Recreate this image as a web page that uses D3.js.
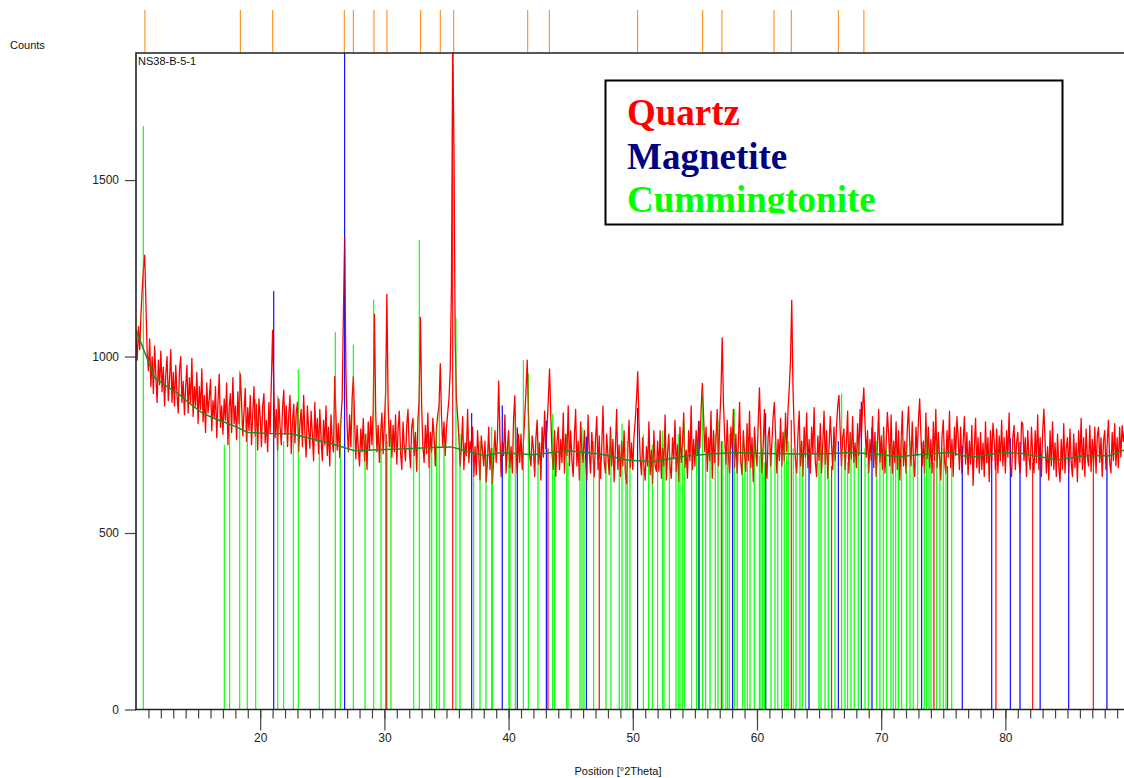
<!DOCTYPE html>
<html>
<head>
<meta charset="utf-8">
<script src="https://d3js.org/d3.v7.min.js"></script>
<style>
  body { margin: 0; background: #fff; }
  svg { display: block; font-family: "Liberation Sans", Arial, sans-serif; }
</style>
</head>
<body>
<div id="chart"></div>
<script>
// measured scan: start angle, step, counts (one row per degree)
const startPos = 10.0;
const stepSize = 0.1;
const counts = [
  1060, 990, 1085, 1020, 1120, 1190, 1250, 1287, 1150, 1010, // 10
  960, 1050, 915, 1000, 895, 1030, 945, 870, 990, 920,
  1015, 900, 970, 860, 950, 1000, 875, 935, 1020, 870,
  955, 860, 975, 895, 840, 960, 1000, 870, 930, 835,
  915, 975, 840, 940, 870, 995, 830, 915, 860, 955,
  810, 915, 850, 965, 815, 890, 785, 925, 840, 880, // 15
  935, 790, 875, 825, 915, 770, 870, 950, 800, 860,
  780, 880, 820, 925, 750, 855, 895, 785, 940, 810,
  860, 765, 900, 810, 950, 870, 775, 845, 910, 760,
  855, 790, 890, 750, 840, 915, 775, 865, 735, 880,
  830, 745, 860, 895, 755, 820, 730, 870, 785, 930, // 20
  1074, 900, 770, 850, 735, 880, 800, 750, 855, 905,
  780, 860, 745, 835, 890, 725, 815, 865, 755, 840,
  870, 730, 810, 850, 745, 890, 780, 715, 860, 795,
  740, 845, 780, 705, 870, 760, 825, 725, 850, 770,
  705, 820, 750, 860, 720, 800, 690, 835, 760, 730, // 25
  943, 830, 735, 810, 715, 820, 880, 1120, 1340, 960,
  800, 730, 835, 745, 880, 943, 820, 710, 805, 740,
  690, 795, 730, 825, 705, 780, 680, 815, 735, 830,
  750, 850, 1120, 840, 730, 805, 700, 785, 840, 725,
  810, 900, 1176, 870, 745, 820, 715, 805, 730, 835, // 30
  695, 790, 845, 730, 680, 815, 745, 705, 805, 850,
  740, 685, 800, 825, 720, 785, 675, 820, 880, 1111,
  860, 745, 700, 805, 725, 840, 685, 785, 730, 825,
  775, 690, 800, 835, 860, 980, 830, 745, 815, 720,
  800, 840, 880, 960, 1200, 1900, 1600, 1050, 880, 830, // 35
  770, 690, 745, 830, 680, 755, 720, 850, 700, 760,
  730, 800, 660, 745, 665, 790, 720, 650, 775, 735,
  690, 760, 645, 705, 800, 680, 740, 640, 715, 790,
  700, 765, 930, 780, 660, 760, 720, 835, 670, 740,
  790, 685, 745, 670, 820, 889, 735, 670, 780, 700, // 40
  780, 680, 760, 830, 900, 990, 840, 720, 690, 775,
  740, 660, 770, 820, 695, 755, 650, 800, 715, 845,
  740, 800, 880, 965, 830, 725, 680, 790, 660, 760,
  800, 680, 765, 700, 840, 670, 780, 720, 860, 690,
  790, 705, 660, 775, 850, 690, 760, 650, 815, 735, // 45
  700, 790, 715, 650, 835, 730, 670, 785, 720, 660,
  765, 830, 680, 775, 655, 745, 860, 700, 670, 780,
  720, 665, 800, 690, 765, 645, 740, 850, 680, 750,
  660, 760, 690, 790, 670, 640, 735, 820, 685, 755,
  680, 775, 820, 880, 957, 810, 710, 665, 770, 690, // 50
  650, 745, 690, 815, 665, 735, 640, 790, 690, 675,
  760, 675, 790, 655, 740, 690, 835, 650, 725, 780,
  690, 655, 770, 710, 820, 675, 750, 645, 800, 700,
  750, 840, 685, 735, 655, 790, 705, 860, 680, 765,
  690, 790, 720, 815, 740, 850, 924, 830, 730, 800, // 55
  675, 770, 705, 845, 655, 790, 700, 765, 850, 690,
  810, 900, 1053, 870, 770, 695, 820, 720, 670, 800,
  740, 850, 685, 780, 670, 755, 870, 700, 665, 790,
  725, 675, 810, 705, 845, 685, 770, 645, 800, 730,
  690, 815, 911, 780, 670, 750, 850, 705, 655, 775, // 60
  800, 690, 755, 830, 870, 775, 670, 765, 705, 825,
  690, 785, 705, 840, 730, 850, 910, 990, 1159, 910,
  790, 705, 670, 780, 845, 690, 760, 660, 800, 715,
  840, 685, 765, 670, 800, 725, 855, 700, 660, 775,
  705, 810, 670, 755, 845, 695, 790, 655, 740, 830, // 65
  755, 680, 800, 705, 800, 860, 890, 790, 690, 770,
  795, 680, 760, 845, 670, 785, 710, 830, 700, 755,
  685, 810, 720, 850, 770, 850, 911, 810, 715, 790,
  670, 765, 705, 830, 685, 785, 660, 755, 850, 700,
  775, 680, 800, 670, 755, 842, 780, 690, 835, 670, // 70
  760, 700, 815, 680, 790, 650, 750, 845, 690, 760,
  670, 790, 858, 755, 690, 815, 705, 660, 800, 720,
  820, 880, 775, 690, 760, 670, 840, 710, 800, 685,
  765, 670, 815, 705, 850, 685, 785, 715, 650, 775,
  820, 705, 670, 790, 715, 845, 685, 765, 660, 800, // 75
  720, 830, 770, 680, 800, 670, 755, 830, 695, 785,
  665, 760, 695, 805, 635, 740, 825, 685, 770, 670,
  785, 680, 755, 660, 815, 700, 770, 645, 790, 705,
  811, 760, 680, 795, 670, 775, 705, 820, 690, 770,
  670, 790, 715, 840, 690, 660, 770, 805, 680, 755, // 80
  785, 700, 670, 815, 809, 705, 770, 660, 790, 715,
  680, 800, 720, 670, 790, 700, 835, 680, 770, 660,
  785, 851, 760, 670, 745, 650, 790, 690, 815, 680,
  755, 660, 780, 690, 645, 765, 680, 810, 670, 740,
  770, 670, 795, 700, 660, 780, 685, 755, 645, 790, // 85
  700, 825, 680, 770, 660, 795, 715, 690, 805, 675,
  765, 690, 800, 670, 775, 799, 700, 770, 660, 760,
  790, 680, 755, 820, 700, 670, 785, 705, 810, 690,
  770, 685, 800, 715, 804, 760, 790
];

// fitted background
const bgPos = [10.0, 10.5, 11.0, 11.5, 12.5, 13.4, 14.4, 15.3, 16.2, 17.2, 18.1, 19.0, 20.6, 22.5, 24.4,
  26.3, 27.6, 29.5, 31.9, 33.7, 35.4, 36.8, 38.1, 39.4, 42.0, 44.7, 47.4, 49.5, 51.6, 54.4, 58.1, 60.8,
  63.5, 66.1, 67.5, 69.5, 71.5, 72.9, 75.5, 77.2, 79.8, 81.4, 84.2, 86.3, 88.4, 89.6];
const bgCounts = [1075, 1030, 985, 940, 915, 895, 865, 841, 826, 813, 800, 785, 782, 781, 765,
  747, 733, 736, 739, 742, 744, 730, 719, 728, 722, 733, 724, 707, 702, 719, 728, 725,
  724, 725, 728, 724, 716, 722, 728, 714, 728, 725, 707, 719, 719, 735];

// reference patterns (stick positions / scaled heights)
const quartzPos = [21.09, 26.80, 37.03, 39.49, 40.70, 43.04, 46.26, 50.39, 55.33, 58.04, 60.70, 64.19,
  66.55, 68.40, 69.26, 73.26, 76.53, 78.90, 80.40, 81.18, 82.80, 85.10, 88.18];
const quartzHeight = [1185, 1950, 840, 861, 799, 818, 773, 854, 818, 760, 839, 740,
  760, 872, 799, 757, 747, 738, 768, 758, 750, 725, 723];

const magnetitePos = [30.15, 35.50, 43.17, 47.30, 57.13, 62.76, 66.01, 74.25, 75.35, 79.24, 82.20, 87.08];
const magnetiteHeight = [780, 1950, 740, 700, 760, 820, 690, 700, 690, 720, 700, 690];

const cummPos = [10.59, 17.11, 17.54, 18.35, 18.96, 19.64, 21.41, 21.89, 22.67, 23.07, 24.76, 26.05, 26.45,
  27.50, 28.44, 29.14, 29.73, 30.10, 30.21, 30.53, 32.36, 32.81, 33.65, 33.81, 34.21, 34.42, 34.80,
  35.76, 36.09, 37.19, 37.70, 38.18, 38.64, 38.69, 40.03, 40.11, 40.54, 41.19, 41.59, 42.37, 43.55,
  43.71, 44.68, 44.78, 45.75, 45.91, 46.07, 46.85, 47.84, 48.24, 48.91, 49.13, 49.45, 49.56, 49.77,
  50.85, 51.28, 51.57, 52.00, 52.41, 52.51, 52.94, 53.48, 53.66, 53.80, 53.99, 54.15, 54.74, 55.14,
  55.31, 55.63, 55.87, 56.22, 56.64, 56.86, 57.24, 57.50, 57.64, 57.77, 58.17, 58.41, 58.85, 59.03,
  59.22, 59.44, 59.78, 60.19, 60.32, 60.46, 60.59, 60.70, 61.13, 61.45, 61.67, 61.99, 62.20, 62.39,
  62.52, 62.92, 63.14, 63.46, 63.65, 63.92, 64.99, 65.15, 65.48, 65.74, 66.28, 66.82, 67.09, 67.30,
  67.57, 67.83, 68.16, 68.70, 68.96, 69.64, 69.90, 70.17, 70.44, 70.79, 70.97, 71.17, 71.38, 71.65,
  72.05, 72.32, 72.58, 72.94, 73.47, 73.66, 73.85, 74.01, 74.47, 74.73, 75.00, 75.22, 75.68];
const cummHeight = [1653, 750, 861, 960, 790, 880, 889, 760, 820, 963, 760, 1069, 820,
  1034, 780, 1161, 800, 994, 760, 790, 821, 1330, 760, 740, 800, 870, 760,
  1111, 780, 700, 760, 720, 800, 740, 770, 700, 830, 990, 952, 760, 838,
  720, 780, 700, 740, 800, 720, 760, 700, 780, 740, 810, 700, 760, 720,
  780, 700, 750, 720, 790, 700, 760, 720, 780, 700, 750, 810, 720, 760,
  740, 899, 760, 720, 780, 820, 760, 720, 740, 780, 852, 720, 760, 700,
  790, 740, 760, 720, 800, 740, 700, 780, 720, 760, 700, 740, 790, 720,
  760, 740, 700, 760, 720, 780, 700, 760, 740, 720, 760, 895, 740, 700,
  780, 720, 760, 740, 700, 760, 720, 780, 740, 760, 700, 740, 720, 780,
  740, 760, 700, 740, 720, 780, 740, 700, 760, 720, 740, 700, 730];

// identified peak positions (top markers)
const peakMarks = [10.72, 18.40, 21.01, 26.77, 27.50, 29.16, 30.21, 32.92, 34.50, 35.58, 41.54,
  43.28, 50.39, 55.63, 57.18, 61.37, 62.76, 66.55, 68.61];

const xMajorTicks = [20, 30, 40, 50, 60, 70, 80];
const xMinorTicks = d3.range(11, 90);
const yTicks = [0, 500, 1000, 1500];
const legendNames = ["Quartz", "Magnetite", "Cummingtonite"];
const legendColors = ["#ff0000", "#000080", "#00ff00"];

const W = 1124, H = 778;
const plot = { left: 136, top: 53, right: 1124.6, bottom: 709.5 };

const x = d3.scaleLinear().domain([10, 89.6]).range([plot.left, plot.right]);
const y = d3.scaleLinear().domain([0, 1860]).range([plot.bottom, plot.top]);

const scan = counts.map((c, i) => ({ pos: startPos + i * stepSize, c: c }));
const bg = bgPos.map((p, i) => ({ pos: p, c: bgCounts[i] }));

const sticks = []
  .concat(cummPos.map((p, i) => ({ pos: p, h: cummHeight[i], color: "#00ff00" })))
  .concat(quartzPos.map((p, i) => ({ pos: p, h: quartzHeight[i], color: "#0000ff" })))
  .concat(magnetitePos.map((p, i) => ({ pos: p, h: magnetiteHeight[i], color: "#ff0000" })));

const svg = d3.select("#chart").append("svg")
  .attr("width", W)
  .attr("height", H);

svg.append("defs").append("clipPath")
  .attr("id", "plotClip")
  .append("rect")
  .attr("x", plot.left)
  .attr("y", plot.top)
  .attr("width", plot.right - plot.left)
  .attr("height", plot.bottom - plot.top);

// peak markers above the frame
svg.append("g").selectAll("line")
  .data(peakMarks)
  .enter().append("line")
  .attr("x1", d => x(d)).attr("x2", d => x(d))
  .attr("y1", 10).attr("y2", plot.top)
  .attr("stroke", "#ff8000")
  .attr("stroke-width", 1);

const inner = svg.append("g").attr("clip-path", "url(#plotClip)");

function drawSticks(g, opacity) {
  g.selectAll("line")
    .data(sticks)
    .enter().append("line")
    .attr("x1", d => x(d.pos)).attr("x2", d => x(d.pos))
    .attr("y1", y(0)).attr("y2", d => y(d.h))
    .attr("stroke", d => d.color)
    .attr("stroke-width", 1)
    .attr("opacity", opacity);
}

drawSticks(inner.append("g"), 1);

const line = d3.line().x(d => x(d.pos)).y(d => y(d.c));

inner.append("path")
  .datum(scan)
  .attr("d", line)
  .attr("fill", "none")
  .attr("stroke", "#ff0000")
  .attr("stroke-width", 1.3)
  .attr("stroke-linejoin", "round");

// sticks again, faint, so they show through the scan
drawSticks(inner.append("g"), 0.4);

inner.append("path")
  .datum(bg)
  .attr("d", line)
  .attr("fill", "none")
  .attr("stroke", "#1f8a1f")
  .attr("stroke-width", 1.5);

// axes
const xMinor = d3.axisBottom(x).tickValues(xMinorTicks).tickSize(9).tickFormat("");
const xMajor = d3.axisBottom(x).tickValues(xMajorTicks).tickSize(21).tickPadding(3).tickFormat(d3.format("d"));
const yAxis = d3.axisLeft(y).tickValues(yTicks).tickSize(11).tickPadding(6).tickFormat(d3.format("d"));

const gxMinor = svg.append("g").attr("transform", `translate(0,${plot.bottom})`).call(xMinor);
const gxMajor = svg.append("g").attr("transform", `translate(0,${plot.bottom})`).call(xMajor);
const gy = svg.append("g").attr("transform", `translate(${plot.left},0)`).call(yAxis);

[gxMinor, gxMajor, gy].forEach(g => {
  g.select(".domain").remove();
  g.selectAll(".tick line").attr("stroke", "#444").attr("stroke-width", 1.2);
  g.selectAll(".tick text")
    .attr("fill", "#222")
    .style("font-size", "12px")
    .style("font-family", "'Liberation Sans', Arial, sans-serif");
});

// frame
svg.append("path")
  .attr("d", `M${plot.left},${plot.bottom}V${plot.top}H${W}`)
  .attr("fill", "none")
  .attr("stroke", "#222")
  .attr("stroke-width", 1.6);
svg.append("line")
  .attr("x1", plot.left - 1).attr("x2", W)
  .attr("y1", plot.bottom).attr("y2", plot.bottom)
  .attr("stroke", "#222")
  .attr("stroke-width", 1.6);

svg.append("text")
  .attr("x", 10).attr("y", 49)
  .style("font-size", "11px")
  .attr("fill", "#111")
  .text("Counts");

svg.append("text")
  .attr("x", 138).attr("y", 65)
  .style("font-size", "11px")
  .attr("fill", "#111")
  .text("NS38-B-5-1");

svg.append("text")
  .attr("x", 618).attr("y", 775)
  .attr("text-anchor", "middle")
  .style("font-size", "11px")
  .attr("fill", "#111")
  .text("Position [°2Theta]");

// legend box
const legend = svg.append("g");
legend.append("rect")
  .attr("x", 605.5).attr("y", 80.5)
  .attr("width", 457).attr("height", 144)
  .attr("fill", "#fff")
  .attr("stroke", "#000")
  .attr("stroke-width", 2);

svg.select("defs").append("clipPath")
  .attr("id", "legendClip")
  .append("rect")
  .attr("x", 606).attr("y", 82)
  .attr("width", 455).attr("height", 131.5);

legend.append("g")
  .attr("clip-path", "url(#legendClip)")
  .selectAll("text")
  .data(legendNames)
  .enter().append("text")
  .attr("x", 627)
  .attr("y", (d, i) => 125 + i * 43.5)
  .attr("fill", (d, i) => legendColors[i])
  .style("font-family", "'Liberation Serif', 'Times New Roman', serif")
  .style("font-weight", "bold")
  .style("font-size", "37px")
  .text(d => d);
</script>
</body>
</html>
